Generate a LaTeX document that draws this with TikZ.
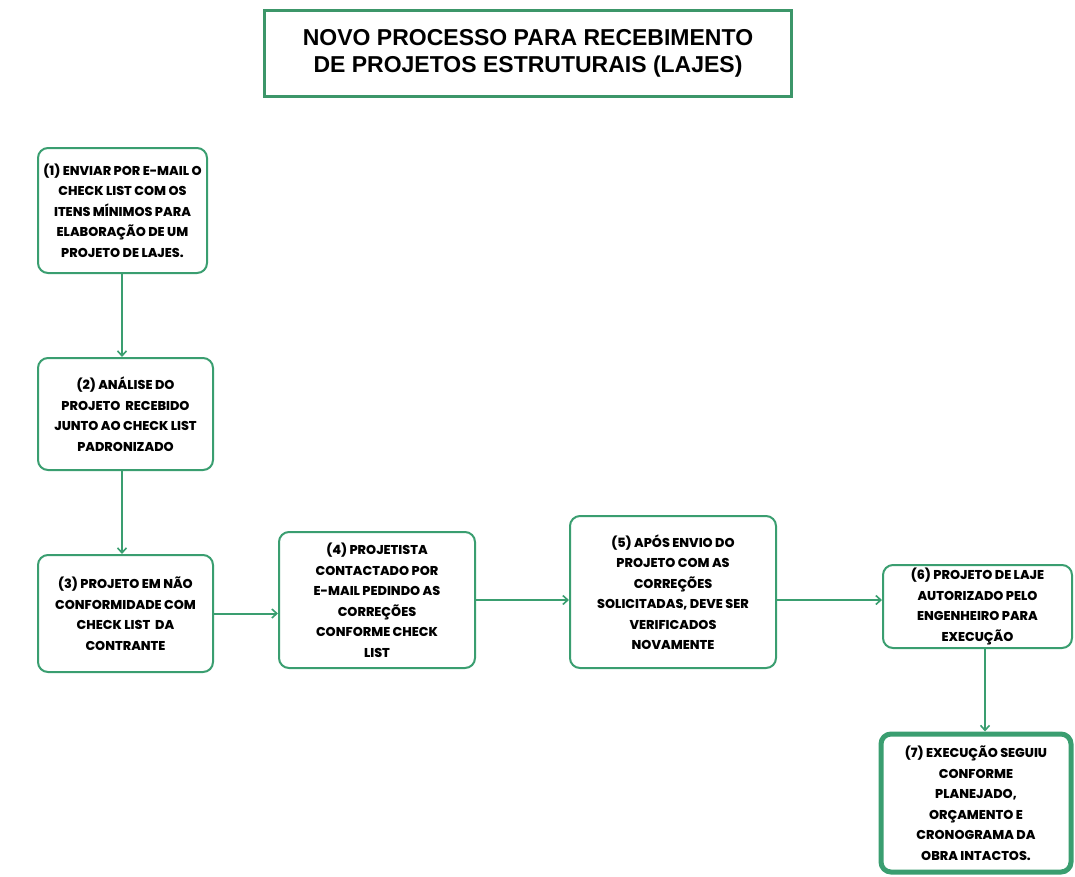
\documentclass[tikz,border=0pt]{standalone}
\usepackage{fontspec}
\setmainfont{Poppins}[BoldFont={Poppins ExtraBold}]
\newfontfamily\titlefont{Liberation Sans}
\usetikzlibrary{arrows.meta,calc}
\definecolor{gline}{RGB}{58,158,112}
\definecolor{gtitle}{RGB}{60,150,105}
\tikzset{
  stepbox/.style={draw=gline, line width=2pt, rounded corners=10pt, fill=white,
    align=center, inner sep=0pt, font=\bfseries\fontsize{12.8}{20.5}\selectfont},
  conn/.style={draw=gline, line width=2pt, -{Straight Barb[length=5pt,width=9pt,line width=1.6pt]}},
}
\begin{document}
\begin{tikzpicture}[x=1pt,y=-1pt]
\useasboundingbox (0,0) rectangle (1075,876);
\node[draw=gtitle, line width=3pt, minimum width=527pt, minimum height=86pt, align=center,
  font=\titlefont\bfseries\fontsize{23}{27}\selectfont] (title) at (528,53.5)
  {NOVO PROCESSO PARA RECEBIMENTO\\DE PROJETOS ESTRUTURAIS (LAJES)};
\node[stepbox, minimum width=169pt, minimum height=125pt] (b1) at (122.5,210.5)
  {(1) ENVIAR POR E-MAIL O\\CHECK LIST COM OS\\ITENS MÍNIMOS PARA\\ELABORAÇÃO DE UM\\PROJETO DE LAJES.};
\node[stepbox, minimum width=175pt, minimum height=112pt] (b2) at (125.5,414)
  {(2) ANÁLISE DO\\PROJETO\ \ RECEBIDO\\JUNTO AO CHECK LIST\\PADRONIZADO};
\node[stepbox, minimum width=175pt, minimum height=117pt] (b3) at (125.5,613.5)
  {(3) PROJETO EM NÃO\\CONFORMIDADE COM\\CHECK LIST\ \ DA\\CONTRANTE};
\node[stepbox, minimum width=196pt, minimum height=136pt] (b4) at (377,600)
  {(4) PROJETISTA\\CONTACTADO POR\\E-MAIL PEDINDO AS\\CORREÇÕES\\CONFORME CHECK\\LIST};
\node[stepbox, minimum width=206pt, minimum height=152pt] (b5) at (673,592)
  {(5) APÓS ENVIO DO\\PROJETO COM AS\\CORREÇÕES\\SOLICITADAS, DEVE SER\\VERIFICADOS\\NOVAMENTE};
\node[stepbox, minimum width=189pt, minimum height=83pt] (b6) at (977.5,606.5)
  {(6) PROJETO DE LAJE\\AUTORIZADO PELO\\ENGENHEIRO PARA\\EXECUÇÃO};
\node[stepbox, line width=5pt, minimum width=190pt, minimum height=138pt] (b7) at (976,803)
  {(7) EXECUÇÃO SEGUIU\\CONFORME\\PLANEJADO,\\ORÇAMENTO E\\CRONOGRAMA DA\\OBRA INTACTOS.};
\coordinate (c12) at (122,0);
\coordinate (c45) at (0,600);
\coordinate (c67) at (985,0);
\draw[conn] (b1.south -| c12) -- (b2.north -| c12);
\draw[conn] (b2.south -| c12) -- (b3.north -| c12);
\draw[conn] (b3.east) -- (b3.east -| b4.west);
\draw[conn] (b4.east |- c45) -- (b5.west |- c45);
\draw[conn] (b5.east |- c45) -- (b6.west |- c45);
\draw[conn] (b6.south -| c67) -- (b7.north -| c67);
\end{tikzpicture}
\end{document}
